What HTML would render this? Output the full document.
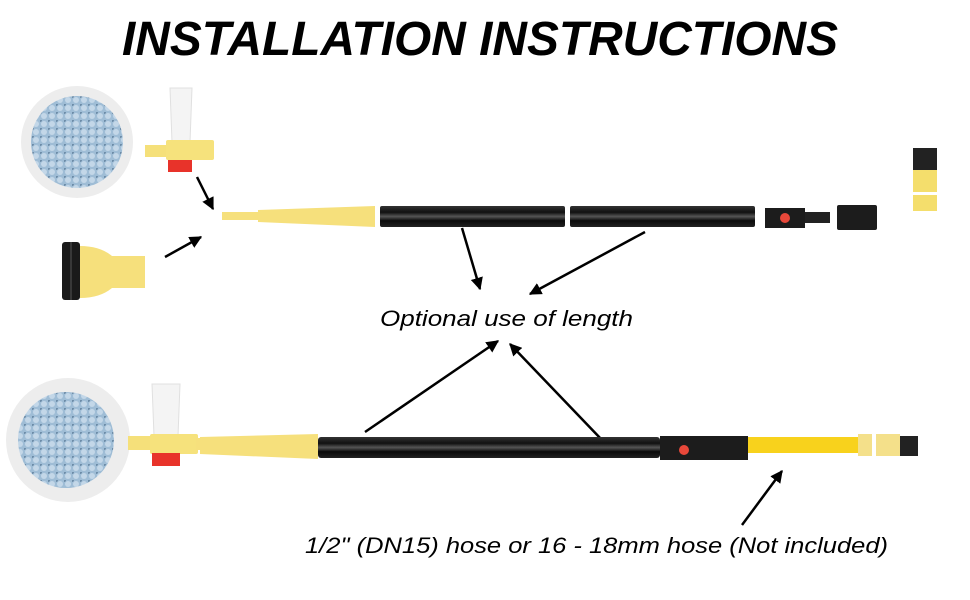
<!DOCTYPE html>
<html><head><meta charset="utf-8"><style>
html,body{margin:0;padding:0;background:#fff;width:970px;height:600px;overflow:hidden}
svg{display:block}
</style></head><body>
<svg width="970" height="600" viewBox="0 0 970 600" xmlns="http://www.w3.org/2000/svg">
<defs>
<marker id="ah" viewBox="0 0 10 10" refX="9" refY="5" markerWidth="5" markerHeight="5" orient="auto"><path d="M0,0 L10,5 L0,10 z" fill="#000"/></marker>
<radialGradient id="blue" cx="50%" cy="50%" r="50%"><stop offset="0" stop-color="#b4cde2"/><stop offset="1" stop-color="#8fb0cc"/></radialGradient>
<linearGradient id="blk" x1="0" y1="0" x2="0" y2="1"><stop offset="0" stop-color="#333"/><stop offset="0.3" stop-color="#111"/><stop offset="0.5" stop-color="#555"/><stop offset="0.7" stop-color="#0a0a0a"/><stop offset="1" stop-color="#222"/></linearGradient>
<pattern id="dots" width="8" height="8" patternUnits="userSpaceOnUse"><rect width="8" height="8" fill="#9fbdd6"/><circle cx="4" cy="4" r="3" fill="#c3d7e8"/><circle cx="0" cy="0" r="2" fill="#6d8ca8"/></pattern>
</defs>
<text x="480" y="55" text-anchor="middle" font-family="Liberation Sans, sans-serif" font-weight="bold" font-style="italic" font-size="48" textLength="716" lengthAdjust="spacingAndGlyphs" fill="#000">INSTALLATION INSTRUCTIONS</text>

<!-- top mop -->
<circle cx="77" cy="142" r="56" fill="#ededed"/>
<circle cx="77" cy="142" r="46" fill="url(#dots)"/>
<rect x="145" y="145" width="30" height="12" fill="#f5e07a"/>
<path d="M170,88 L192,88 L190,142 L172,142 Z" fill="#f4f4f4" stroke="#e0e0e0"/>
<rect x="166" y="140" width="48" height="20" rx="2" fill="#f6e27c"/>
<rect x="168" y="160" width="24" height="12" fill="#e8332a"/>
<line x1="197" y1="177" x2="213" y2="209" stroke="#000" stroke-width="2.5" marker-end="url(#ah)"/>
<line x1="165" y1="257" x2="201" y2="237" stroke="#000" stroke-width="2.5" marker-end="url(#ah)"/>
<!-- adapter -->
<rect x="62" y="242" width="18" height="58" rx="3" fill="#1a1a1a"/>
<line x1="71" y1="242" x2="71" y2="300" stroke="#555" stroke-width="1"/>
<path d="M80,246 Q100,246 112,256 L145,256 L145,288 L112,288 Q100,298 80,298 Z" fill="#f6e07c"/>
<!-- top pole -->
<rect x="222" y="212" width="38" height="8" fill="#f6e07c"/>
<path d="M258,210 L375,206 L375,227 L258,222 Z" fill="#f6e07c"/>
<rect x="380" y="206" width="185" height="21" rx="2" fill="url(#blk)"/>
<rect x="570" y="206" width="185" height="21" rx="2" fill="url(#blk)"/>
<rect x="765" y="208" width="40" height="20" fill="#1c1c1c"/>
<circle cx="785" cy="218" r="5" fill="#e8483a"/>
<rect x="805" y="212" width="25" height="11" fill="#222"/>
<rect x="837" y="205" width="40" height="25" rx="2" fill="#1c1c1c"/>
<!-- small connector -->
<rect x="913" y="148" width="24" height="22" fill="#222"/>
<rect x="913" y="170" width="24" height="22" fill="#f4de6c"/>
<rect x="913" y="195" width="24" height="16" fill="#f4de6c"/>
<line x1="462" y1="228" x2="480" y2="289" stroke="#000" stroke-width="2.5" marker-end="url(#ah)"/>
<line x1="645" y1="232" x2="530" y2="294" stroke="#000" stroke-width="2.5" marker-end="url(#ah)"/>
<text x="380" y="326" font-family="Liberation Sans, sans-serif" font-style="italic" font-size="22" textLength="253" lengthAdjust="spacingAndGlyphs">Optional use of length</text>
<line x1="365" y1="432" x2="498" y2="341" stroke="#000" stroke-width="2.5" marker-end="url(#ah)"/>
<line x1="602" y1="440" x2="510" y2="344" stroke="#000" stroke-width="2.5" marker-end="url(#ah)"/>

<!-- bottom mop -->
<circle cx="68" cy="440" r="62" fill="#ededed"/>
<circle cx="66" cy="440" r="48" fill="url(#dots)"/>
<rect x="128" y="436" width="30" height="14" fill="#f5e07a"/>
<path d="M152,384 L180,384 L178,436 L154,436 Z" fill="#f4f4f4" stroke="#e0e0e0"/>
<rect x="150" y="434" width="48" height="20" rx="2" fill="#f6e27c"/>
<rect x="152" y="453" width="28" height="13" fill="#e8332a"/>
<rect x="196" y="438" width="10" height="12" fill="#f6e07c"/>
<path d="M200,437 L318,434 L318,459 L200,454 Z" fill="#f6e07c"/>
<rect x="318" y="437" width="342" height="21" rx="3" fill="url(#blk)"/>
<rect x="660" y="436" width="88" height="24" fill="#1c1c1c"/>
<circle cx="684" cy="450" r="5" fill="#e8483a"/>
<rect x="748" y="437" width="110" height="16" fill="#f8d21c"/>
<rect x="858" y="434" width="14" height="22" fill="#f4e08a"/>
<rect x="876" y="434" width="24" height="22" fill="#f4e08a"/>
<rect x="900" y="436" width="18" height="20" fill="#222"/>
<line x1="742" y1="525" x2="782" y2="471" stroke="#000" stroke-width="2.5" marker-end="url(#ah)"/>
<text x="305" y="553" font-family="Liberation Sans, sans-serif" font-style="italic" font-size="22" textLength="583" lengthAdjust="spacingAndGlyphs">1/2" (DN15) hose or 16 - 18mm hose (Not included)</text>
</svg>
</body></html>
